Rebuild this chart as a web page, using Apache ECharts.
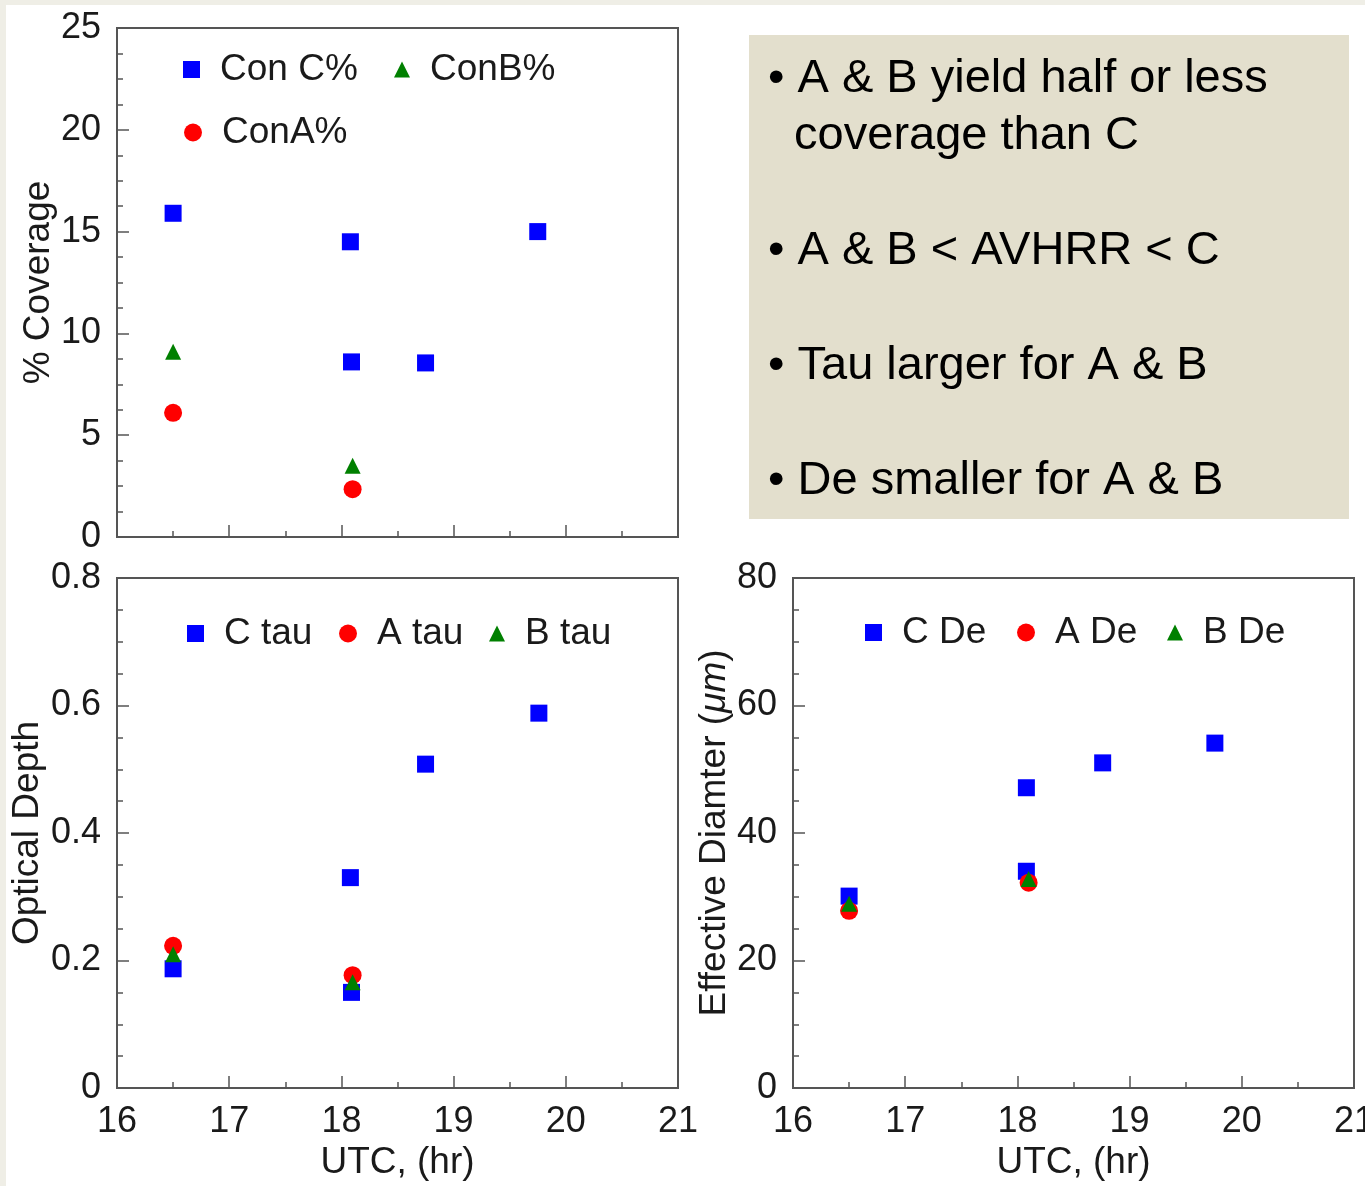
<!DOCTYPE html>
<html>
<head>
<meta charset="utf-8">
<script src="https://cdn.jsdelivr.net/npm/echarts@6/dist/echarts.min.js"></script>
<style>
  html, body { margin: 0; padding: 0; background: #fff; }
  #chart { width: 1365px; height: 1186px; }
</style>
</head>
<body>
<div id="chart"></div>
<script>
// coverage (%)
const conC = [[16.5, 15.9], [18.08, 14.5], [18.09, 8.6], [18.75, 8.55], [19.75, 15.0]];
const conB = [[16.5, 9.1], [18.1, 3.5]];
const conA = [[16.5, 6.1], [18.1, 2.35]];

// optical depth
const cTau = [[16.5, 0.187], [18.09, 0.15], [18.08, 0.33], [18.75, 0.508], [19.76, 0.588]];
const aTau = [[16.5, 0.223], [18.1, 0.177]];
const bTau = [[16.5, 0.21], [18.1, 0.166]];

// effective diameter (um)
const cDe = [[16.5, 30.1], [18.08, 34.0], [18.08, 47.1], [18.76, 51.0], [19.76, 54.1]];
const aDe = [[16.5, 27.8], [18.1, 32.2]];
const bDe = [[16.5, 28.9], [18.1, 32.8]];

const notes = [
  '\u2022 A & B yield half or less',
  '  coverage than C',
  '\u2022 A & B < AVHRR < C',
  '\u2022 Tau larger for A & B',
  '\u2022 De smaller for A & B'
];
const noteY = [77, 134, 249, 364, 479];

const font = 'Liberation Sans, Arial, Helvetica, sans-serif';
const ink = '#1a1a1a';
const frame = '#555';

function xAxis(grid, showLabel) {
  return {
    type: 'value', gridIndex: grid, min: 16, max: 21, interval: 1,
    name: showLabel ? 'UTC, (hr)' : '', nameLocation: 'middle', nameGap: 56,
    nameTextStyle: { fontSize: 37, color: ink, fontFamily: font },
    axisLine: { lineStyle: { color: frame, width: 2 } },
    axisTick: { inside: true, length: 12, lineStyle: { color: frame, width: 1.5 } },
    minorTick: { show: true, splitNumber: 2, length: 6, lineStyle: { color: frame, width: 1.5 } },
    axisLabel: { show: showLabel, fontSize: 36, color: ink, fontFamily: font, margin: 16 },
    splitLine: { show: false }
  };
}

function yAxis(grid, max, step, name, gap) {
  return {
    type: 'value', gridIndex: grid, min: 0, max: max, interval: step,
    name: name, nameLocation: 'middle', nameGap: gap,
    nameTextStyle: {
      fontSize: 37, color: ink, fontFamily: font,
      rich: { mu: { fontSize: 37, fontStyle: 'italic', color: ink, fontFamily: font } }
    },
    axisLine: { lineStyle: { color: frame, width: 2 } },
    axisTick: { inside: true, length: 12, lineStyle: { color: frame, width: 1.5 } },
    minorTick: { show: true, splitNumber: 4, length: 6, lineStyle: { color: frame, width: 1.5 } },
    axisLabel: { fontSize: 36, color: ink, fontFamily: font, margin: 16 },
    splitLine: { show: false }
  };
}

function dots(name, data, grid, symbol, color, size) {
  return {
    name: name, type: 'scatter', xAxisIndex: grid, yAxisIndex: grid,
    data: data, symbol: symbol, symbolSize: size,
    itemStyle: { color: color, opacity: 1 }
  };
}

function legendItem(name, left, top, size) {
  return {
    data: [name], left: left, top: top, orient: 'horizontal',
    itemWidth: size, itemHeight: size, selectedMode: false,
    textStyle: { fontSize: 37, color: ink, fontFamily: font, padding: [0, 0, 0, 15] }
  };
}

const gridBox = {
  show: true, borderColor: frame, borderWidth: 2, backgroundColor: '#fff',
  containLabel: false, outerBoundsMode: 'none'
};

const option = {
  backgroundColor: '#fff',
  animation: false,
  grid: [
    Object.assign({ left: 117, top: 28, width: 561, height: 509 }, gridBox),
    Object.assign({ left: 117, top: 578, width: 561, height: 510 }, gridBox),
    Object.assign({ left: 793, top: 578, width: 561, height: 510 }, gridBox)
  ],
  xAxis: [xAxis(0, false), xAxis(1, true), xAxis(2, true)],
  yAxis: [
    yAxis(0, 25, 5, '% Coverage', 60),
    yAxis(1, 0.8, 0.2, 'Optical Depth', 71),
    yAxis(2, 80, 20, 'Effective Diamter ({mu|\u03bcm})', 58)
  ],
  legend: [
    legendItem('Con C%', 178, 46, 17),
    legendItem('ConB%', 389, 46, 16),
    legendItem('ConA%', 179, 109, 18),
    legendItem('C tau', 182, 610, 17),
    legendItem('A tau', 334, 610, 18),
    legendItem('B tau', 484, 610, 16),
    legendItem('C De', 860, 609, 17),
    legendItem('A De', 1012, 609, 18),
    legendItem('B De', 1162, 609, 16)
  ],
  graphic: [
    { type: 'rect', shape: { x: 0, y: 0, width: 1365, height: 5 }, style: { fill: '#efeee6' }, z: -1 },
    { type: 'rect', shape: { x: 0, y: 0, width: 6, height: 1186 }, style: { fill: '#efeee6' }, z: -1 },
    { type: 'rect', shape: { x: 749, y: 35, width: 600, height: 484 }, style: { fill: '#e3dfcd' } }
  ].concat(notes.map(function (t, i) {
    return {
      type: 'text', left: 768, top: noteY[i] - 21,
      style: { text: t, fontSize: 47, fill: '#000', fontFamily: font }
    };
  })),
  series: [
    dots('Con C%', conC, 0, 'rect', '#0000ff', 17),
    dots('ConA%', conA, 0, 'circle', '#ff0000', 18),
    dots('ConB%', conB, 0, 'triangle', '#008000', 16),
    dots('C tau', cTau, 1, 'rect', '#0000ff', 17),
    dots('A tau', aTau, 1, 'circle', '#ff0000', 18),
    dots('B tau', bTau, 1, 'triangle', '#008000', 16),
    dots('C De', cDe, 2, 'rect', '#0000ff', 17),
    dots('A De', aDe, 2, 'circle', '#ff0000', 18),
    dots('B De', bDe, 2, 'triangle', '#008000', 16)
  ]
};

echarts.init(document.getElementById('chart')).setOption(option);
</script>
</body>
</html>
